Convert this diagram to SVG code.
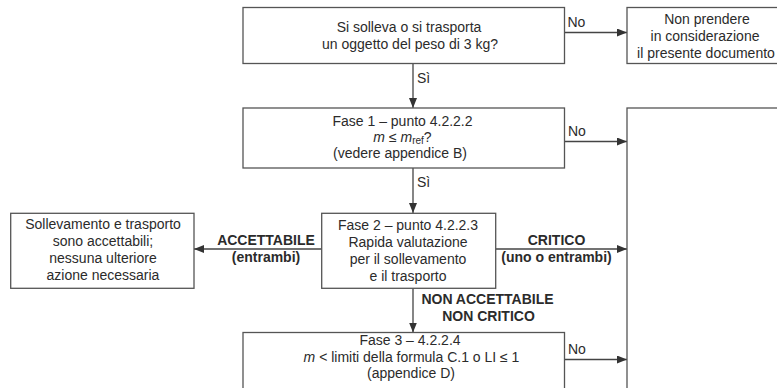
<svg xmlns="http://www.w3.org/2000/svg" width="777" height="388" viewBox="0 0 777 388">
<style>
.box{fill:#fff;stroke:#555;stroke-width:1.3}
.t{font-family:"Liberation Sans",Arial,sans-serif;font-size:14px;fill:#2b2b2b;text-anchor:middle}
.b{font-weight:bold}
.l{text-anchor:start}
.con{stroke:#444;stroke-width:1.3;fill:none}
</style>
<defs>
<marker id="ah" markerUnits="userSpaceOnUse" markerWidth="10" markerHeight="8" refX="10" refY="4" orient="auto">
<path d="M0,0 L10,4 L0,8 z" fill="#333"/>
</marker>
</defs>
<rect width="777" height="388" fill="#fff"/>

<g id="connectors">
<line class="con" x1="564.5" y1="32.5" x2="627" y2="32.5" marker-end="url(#ah)"/>
<line class="con" x1="413" y1="63.5" x2="413" y2="108" marker-end="url(#ah)"/>
<line class="con" x1="564.5" y1="141.5" x2="627" y2="141.5" marker-end="url(#ah)"/>
<line class="con" x1="413" y1="168" x2="413" y2="213" marker-end="url(#ah)"/>
<line class="con" x1="321.7" y1="249" x2="194" y2="249" marker-end="url(#ah)"/>
<line class="con" x1="495.7" y1="249" x2="627" y2="249" marker-end="url(#ah)"/>
<line class="con" x1="413" y1="288.3" x2="413" y2="332.5" marker-end="url(#ah)"/>
<line class="con" x1="564.5" y1="359.5" x2="627" y2="359.5" marker-end="url(#ah)"/>
<text class="t l" x="567.5" y="27">No</text>
<text class="t l" x="417" y="83">Sì</text>
<text class="t l" x="568" y="136">No</text>
<text class="t l" x="417" y="187">Sì</text>
<text class="t b" x="266" y="245">ACCETTABILE</text>
<text class="t b" x="266" y="262">(entrambi)</text>
<text class="t b" x="556.5" y="245">CRITICO</text>
<text class="t b" x="556.5" y="262">(uno o entrambi)</text>
<text class="t b" x="487.5" y="303.5">NON ACCETTABILE</text>
<text class="t b" x="488.5" y="320.5">NON CRITICO</text>
<text class="t l" x="568" y="354">No</text>
</g>

<g id="n_question">
<rect class="box" x="243" y="7.5" width="321.5" height="56"/>
<text class="t" x="409" y="31.5">Si solleva o si trasporta</text>
<text class="t" x="410" y="48.5">un oggetto del peso di 3 kg?</text>
</g>

<g id="n_ignore">
<rect class="box" x="627" y="7.5" width="160" height="56"/>
<text class="t" x="707" y="24">Non prendere</text>
<text class="t" x="705" y="41">in considerazione</text>
<text class="t" x="706" y="58">il presente documento</text>
</g>

<g id="n_fase1">
<rect class="box" x="243" y="108" width="321.5" height="60"/>
<text class="t" x="402.5" y="126">Fase 1 – punto 4.2.2.2</text>
<text class="t" x="402.5" y="141.5"><tspan font-style="italic">m</tspan> ≤ <tspan font-style="italic">m</tspan><tspan font-size="10" dy="2.5">ref</tspan><tspan dy="-2.5">?</tspan></text>
<text class="t" x="400" y="158">(vedere appendice B)</text>
</g>

<g id="n_right">
<rect class="box" x="627" y="108" width="170" height="300"/>
</g>

<g id="n_accept">
<rect class="box" x="10.7" y="213.3" width="183.3" height="75"/>
<text class="t" x="103" y="228.5">Sollevamento e trasporto</text>
<text class="t" x="103" y="245.5">sono accettabili;</text>
<text class="t" x="103" y="262.5">nessuna ulteriore</text>
<text class="t" x="103" y="279.5">azione necessaria</text>
</g>

<g id="n_fase2">
<rect class="box" x="321.7" y="213.3" width="174" height="75"/>
<text class="t" x="408" y="230">Fase 2 – punto 4.2.2.3</text>
<text class="t" x="408" y="247">Rapida valutazione</text>
<text class="t" x="408" y="264">per il sollevamento</text>
<text class="t" x="408" y="281">e il trasporto</text>
</g>

<g id="n_fase3">
<rect class="box" x="243" y="332.5" width="321.5" height="80"/>
<text class="t" x="410" y="345">Fase 3 – 4.2.2.4</text>
<text class="t" x="411.5" y="361.5"><tspan font-style="italic">m</tspan> &lt; limiti della formula C.1 o LI ≤ 1</text>
<text class="t" x="411" y="378">(appendice D)</text>
</g>
</svg>
